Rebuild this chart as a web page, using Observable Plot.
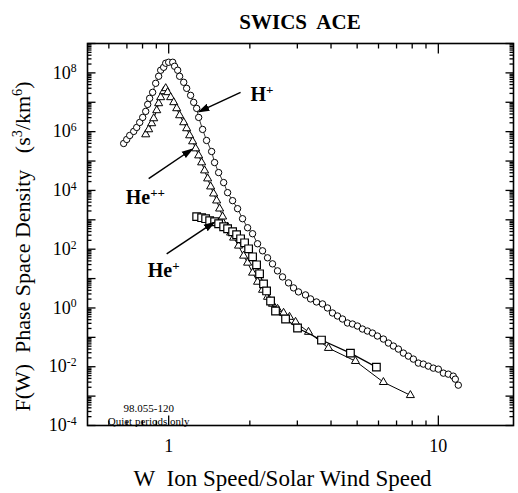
<!DOCTYPE html>
<html><head><meta charset="utf-8">
<script src="https://cdn.jsdelivr.net/npm/d3@7"></script>
<script src="https://cdn.jsdelivr.net/npm/@observablehq/plot@0.6"></script>
<style>
body{margin:0;background:#fff;font-family:"Liberation Serif",serif;}
#title{height:36px;width:518px;position:relative;}
#title span{position:absolute;left:300px;top:22px;transform:translate(-50%,-50%);font-weight:bold;font-size:21px;white-space:pre;}
</style></head><body>
<div id="title"><span>SWICS  ACE</span></div>
<div id="chart"></div>
<script>
// H+ (circles)
const hW = [0.681,0.699,0.717,0.742,0.761,0.781,0.801,0.822,0.836,0.850,0.872,0.895,0.918,0.934,0.958,0.975,1.0,1.035,1.052,1.080,1.098,1.137,1.166,1.206,1.238,1.270,1.292,1.336,1.382,1.443,1.480,1.532,1.599,1.654,1.726,1.801,1.879,1.962,2.047,2.136,2.229,2.326,2.427,2.533,2.644,2.783,2.904,3.030,3.217,3.358,3.533,3.719,3.881,4.050,4.227,4.411,4.603,4.804,5.012,5.231,5.458,5.696,5.944,6.256,6.529,6.813,7.110,7.419,7.743,8.080,8.432,8.799,9.183,9.583,10.0,10.44,10.89,11.36,11.56,11.86];
const hF = [3.96e5,5.42e5,7.42e5,1.02e6,1.39e6,2.06e6,3.05e6,4.89e6,8.47e6,1.36e7,2.18e7,4.42e7,7.66e7,1.23e8,1.55e8,2.13e8,2.30e8,2.30e8,1.68e8,1.23e8,7.66e7,4.78e7,2.98e7,1.72e7,9.93e6,6.19e6,3.05e6,1.19e6,5.01e5,2.11e5,8.89e4,4.05e4,1.85e4,8.41e3,4.49e3,2.39e3,1.09e3,537,336,153,88.1,50.9,31.7,18.3,11.4,7.13,4.82,3.52,2.78,2.03,1.60,1.37,1.0,0.675,0.533,0.421,0.308,0.284,0.243,0.192,0.164,0.140,0.111,0.0875,0.0639,0.0505,0.0399,0.0291,0.0230,0.0182,0.0133,0.0123,0.0105,0.00896,0.00828,0.00605,0.00559,0.00478,0.00378,0.00236];
// He++ (triangles)
const he2W = [0.822,0.843,0.865,0.880,0.903,0.918,0.934,0.958,0.975,0.991,1.017,1.044,1.071,1.098,1.137,1.166,1.196,1.227,1.259,1.292,1.325,1.359,1.395,1.431,1.468,1.506,1.545,1.585,1.654,1.697,1.741,1.816,1.896,1.962,2.047,2.136,2.229,2.326,2.427,2.533,2.667,2.806,2.954,3.300,3.913,4.928,6.256,7.877];
const he2F = [8.02e5,1.19e6,1.91e6,2.82e6,5.30e6,9.17e6,1.47e7,2.35e7,2.98e7,2.18e7,1.47e7,9.93e6,6.19e6,3.57e6,2.06e6,1.29e6,7.42e5,4.63e5,2.67e5,1.54e5,8.89e4,4.74e4,2.53e4,1.35e4,7.78e3,4.49e3,2.39e3,1.28e3,582,363,245,131,59.6,34.4,15.7,7.71,4.11,2.37,1.37,0.924,0.675,0.493,0.333,0.152,0.0431,0.0155,0.00298,0.00107];
// He+ (squares)
const he1W = [1.270,1.325,1.371,1.419,1.480,1.532,1.599,1.654,1.726,1.786,1.848,1.912,1.979,2.047,2.118,2.173,2.248,2.307,2.387,2.490,2.713,3.005,3.687,4.721,5.893];
const he1F = [1.28e3,1.18e3,1.09e3,932,861,736,582,497,393,310,226,165,103,55.1,29.4,14.5,6.59,3.80,1.73,0.790,0.421,0.208,0.0809,0.0291,0.00969];

// tick values
const xMajorTicks = [1, 10];
const xMinorTicks = [0.6,0.7,0.8,0.9,2,3,4,5,6,7,8,9];
const xLabelTicks = [1, 10];
const yMajorTicks = [1e-4,1e-3,1e-2,1e-1,1,1e1,1e2,1e3,1e4,1e5,1e6,1e7,1e8,1e9];
const yLabelTicks = [1e-4,1e-2,1,1e2,1e4,1e6,1e8];
const yMinorTicks = yMajorTicks.slice(0,-1).flatMap(d => [2,3,4,5,6,7,8,9].map(m => m*d));

// annotations
const annText = ["H^{+}", "He^{++}", "He^{+}"];
const annW = [2.012, 0.693, 0.836];
const annF = [1.86e7, 5.68e3, 18.3];
const arrW1 = [1.848, 0.843, 0.983];
const arrF1 = [2.18e7, 2.53e4, 69.7];
const arrW2 = [1.302, 1.217, 1.468];
const arrF2 = [4.9e6, 2.47e5, 796];
const noteText = ["98.055-120\nQuiet periods only"];
const noteW = [0.843];
const noteF = [2.32e-4];

const xLabel = "W\u00a0\u00a0Ion Speed/Solar Wind Speed";
const yLabel = "F(W)\u00a0\u00a0Phase Space Density\u00a0\u00a0\u00a0(s^{3}/km^{6})";

(function () {
const hData = hW.map((w,i)=>({w, f:hF[i]}));
const he2Data = he2W.map((w,i)=>({w, f:he2F[i]}));
const he1Data = he1W.map((w,i)=>({w, f:he1F[i]}));
const annData = annText.map((t,i)=>({t, w:annW[i], f:annF[i]}));
const arrData = arrW1.map((w,i)=>({w1:w, f1:arrF1[i], w2:arrW2[i], f2:arrF2[i]}));
const noteData = noteText.map((t,i)=>({t, w:noteW[i], f:noteF[i]}));

function filledArrow(color) {
  const m = d3.create("svg:marker")
    .attr("viewBox", "-5 -5 10 10")
    .attr("markerWidth", 8)
    .attr("markerHeight", 8)
    .attr("refX", 3)
    .attr("orient", "auto");
  m.append("path").attr("d", "M-5,-3.2L5,0L-5,3.2Z").attr("fill", color).attr("stroke", "none");
  return m.node();
}

// tick-shaped symbols (stroke only), drawn by Plot.dot at the frame edges
const tickSym = (dx, dy) => ({draw(ctx) { ctx.moveTo(0, 0); ctx.lineTo(dx, dy); }});
const tks = {stroke: "black", strokeWidth: 1.3, fill: "none"};

const W = 518, H = 457, mT = 7, mB = 68, mL = 87, mR = 5;

const chart = Plot.plot({
  width: W,
  height: H,
  marginTop: mT,
  marginBottom: mB,
  marginLeft: mL,
  marginRight: mR,
  style: {fontFamily: "Liberation Serif", fontSize: "18px", color: "black", background: "white"},
  x: {type: "log", domain: [0.5, 19]},
  y: {type: "log", domain: [1e-4, 1e9]},
  marks: [
    Plot.axisY(yLabelTicks, {anchor: "left", tickSize: 0, tickPadding: 11, label: null, fontSize: 18,
      tickFormat: d => `10^{${Math.round(Math.log10(d))}}`}),
    Plot.axisX(xLabelTicks, {anchor: "bottom", tickSize: 0, tickPadding: 14, label: null, fontSize: 18,
      tickFormat: d => `${d}`}),
    Plot.frame({stroke: "black", strokeWidth: 1.6}),
    // inward ticks on all four sides
    Plot.dot(yMajorTicks, {y: d => d, frameAnchor: "left", symbol: tickSym(8, 0), ...tks}),
    Plot.dot(yMinorTicks, {y: d => d, frameAnchor: "left", symbol: tickSym(4, 0), ...tks}),
    Plot.dot(yMajorTicks, {y: d => d, frameAnchor: "right", symbol: tickSym(-8, 0), ...tks}),
    Plot.dot(yMinorTicks, {y: d => d, frameAnchor: "right", symbol: tickSym(-4, 0), ...tks}),
    Plot.dot(xMajorTicks, {x: d => d, frameAnchor: "bottom", symbol: tickSym(0, -10), ...tks}),
    Plot.dot(xMinorTicks, {x: d => d, frameAnchor: "bottom", symbol: tickSym(0, -5), ...tks}),
    Plot.dot(xMajorTicks, {x: d => d, frameAnchor: "top", symbol: tickSym(0, 10), ...tks}),
    Plot.dot(xMinorTicks, {x: d => d, frameAnchor: "top", symbol: tickSym(0, 5), ...tks}),
    // axis titles
    Plot.text([xLabel], {text: d => d, frameAnchor: "bottom", lineAnchor: "middle", textAnchor: "middle", dy: 53, dx: -18, fontSize: 23}),
    Plot.text([yLabel], {text: d => d, frameAnchor: "left", textAnchor: "middle", lineAnchor: "middle", rotate: -90, dx: -65, dy: 12, fontSize: 22}),
    // series
    Plot.line(hData, {x: "w", y: "f", stroke: "black", strokeWidth: 0.8}),
    Plot.dot(hData, {x: "w", y: "f", r: 3.2, fill: "white", stroke: "black", strokeWidth: 1}),
    Plot.line(he2Data, {x: "w", y: "f", stroke: "black", strokeWidth: 1}),
    Plot.dot(he2Data, {x: "w", y: "f", symbol: "triangle", r: 3, fill: "white", stroke: "black", strokeWidth: 1}),
    Plot.line(he1Data, {x: "w", y: "f", stroke: "black", strokeWidth: 1.2}),
    Plot.dot(he1Data, {x: "w", y: "f", symbol: "square", r: 4.3, fill: "white", stroke: "black", strokeWidth: 1.2}),
    // annotations
    Plot.link(arrData, {x1: "w1", y1: "f1", x2: "w2", y2: "f2", stroke: "black", strokeWidth: 1.5, markerEnd: filledArrow}),
    Plot.text(annData, {x: "w", y: "f", text: "t", textAnchor: "start", fontSize: 20, fontWeight: "bold"}),
    Plot.text(noteData, {x: "w", y: "f", text: "t", fontSize: 11, lineHeight: 1.15})
  ]
});

// superscript rendering: "a^{b}c" -> tspans
function supify(el) {
  const s = el.textContent;
  if (!s.includes("^{") || el.children.length) return;
  const ns = "http://www.w3.org/2000/svg";
  el.textContent = "";
  const re = /\^\{([^}]*)\}/g;
  let last = 0, m, raised = false;
  const add = (txt, sup) => {
    const t = document.createElementNS(ns, "tspan");
    t.textContent = txt;
    if (sup) { t.setAttribute("font-size", "65%"); t.setAttribute("dy", "-0.55em"); raised = true; }
    else if (raised) { t.setAttribute("dy", "0.3575em"); raised = false; }
    el.appendChild(t);
  };
  while ((m = re.exec(s))) {
    if (m.index > last) add(s.slice(last, m.index), false);
    add(m[1], true);
    last = re.lastIndex;
  }
  if (last < s.length) add(s.slice(last), false);
}
d3.select(chart).selectAll("text").each(function() { supify(this); });

document.getElementById("chart").appendChild(chart);
})();
</script>
</body></html>
